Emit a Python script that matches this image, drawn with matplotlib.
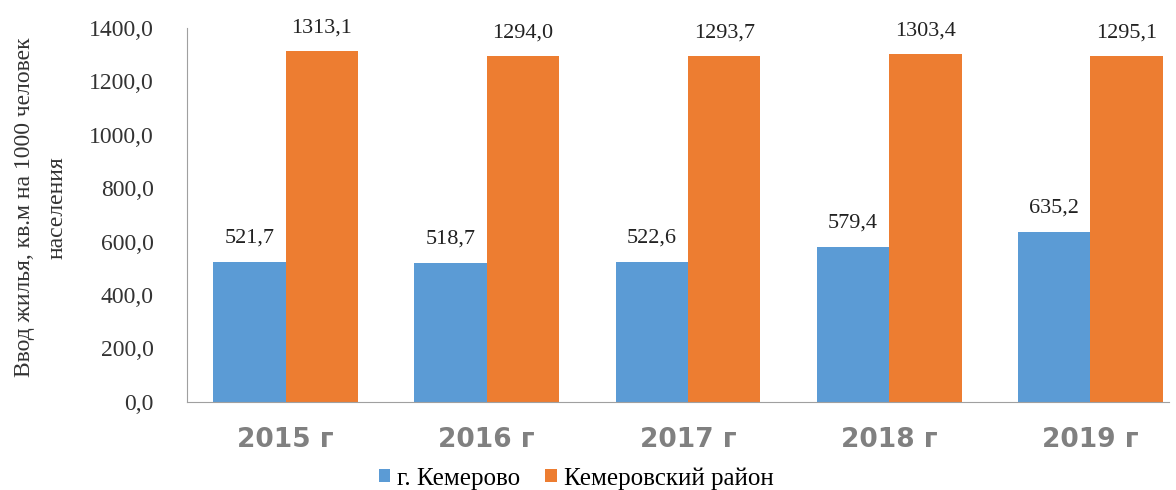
import matplotlib.pyplot as plt
import numpy as np
from matplotlib.ticker import FuncFormatter

years = ['2015 г', '2016 г', '2017 г', '2018 г', '2019 г']
kemerovo = [521.7, 518.7, 522.6, 579.4, 635.2]
district = [1313.1, 1294.0, 1293.7, 1303.4, 1295.1]

blue = '#5B9BD5'
orange = '#ED7D31'
serif = 'Liberation Serif'

fig = plt.figure(figsize=(11.76, 4.9), dpi=100)
ax = fig.add_axes([0.159, 0.18, 0.835, 0.763])

x = np.arange(len(years))
w = 0.36
b1 = ax.bar(x - w / 2, kemerovo, w, color=blue, label='г. Кемерово')
b2 = ax.bar(x + w / 2, district, w, color=orange, label='Кемеровский район')

def fmt(v):
    return f'{v:.1f}'.replace('.', ',')

for rect, v in zip(b1, kemerovo):
    ax.text(rect.get_x() + rect.get_width() / 2, v + 55, fmt(v), ha='center', va='bottom',
            fontsize=16, family=serif, color='#222222')
for rect, v in zip(b2, district):
    ax.text(rect.get_x() + rect.get_width() / 2, v + 50, fmt(v), ha='center', va='bottom',
            fontsize=16, family=serif, color='#222222')

ax.set_xlim(-0.49, 4.39)
ax.set_ylim(0, 1400)
ax.set_yticks(np.arange(0, 1401, 200))
ax.yaxis.set_major_formatter(FuncFormatter(lambda v, p: fmt(v)))
for t in ax.get_yticklabels():
    t.set_family(serif)
    t.set_fontsize(17)
    t.set_color('#333333')

ax.set_xticks(x)
ax.set_xticklabels(years, fontsize=19, fontweight='bold', color='#808080', family='DejaVu Sans')
ax.tick_params(axis='both', length=0)
ax.tick_params(axis='x', pad=18)
ax.tick_params(axis='y', pad=24)

for s in ['top', 'right']:
    ax.spines[s].set_visible(False)
for s in ['left', 'bottom']:
    ax.spines[s].set_color('#a0a0a0')

ax.set_ylabel('Ввод жилья, кв.м на 1000 человек\nнаселения', family=serif, fontsize=17,
              color='#333333', linespacing=1.7)
ax.yaxis.set_label_coords(-0.122, 0.52)

fig.legend(loc='lower center', bbox_to_anchor=(0.49, -0.045), ncol=2, frameon=False,
           prop={'family': serif, 'size': 18}, handlelength=0.45, handleheight=0.45,
           columnspacing=1.0, handletextpad=0.3)

fig.savefig('out.png', dpi=100)
